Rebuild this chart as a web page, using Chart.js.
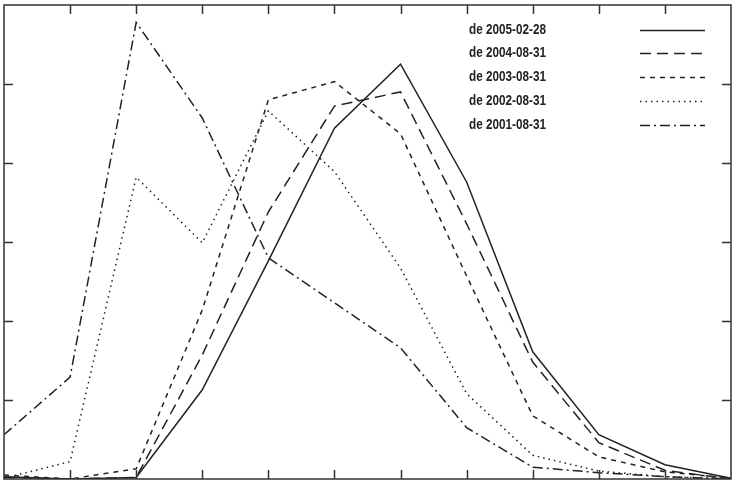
<!DOCTYPE html>
<html>
<head>
<meta charset="utf-8">
<script src="https://cdn.jsdelivr.net/npm/chart.js@4/dist/chart.umd.min.js"></script>
<style>
  html, body { margin: 0; padding: 0; background: #fff; }
  #wrap { width: 739px; height: 488px; }
</style>
</head>
<body>
<div id="wrap"><canvas id="c" width="739" height="488"></canvas></div>
<script>
const categories = ['1','2','3','4','5','6','7','8','9','10','11','12'];
const seriesLabels = ['de 2005-02-28','de 2004-08-31','de 2003-08-31','de 2002-08-31','de 2001-08-31'];
const s2005 = [0.3, 0.0, 0.2, 11.3, 27.6, 44.4, 52.5, 37.6, 16.1, 5.6, 1.8, 0.1];
const s2004 = [0.2, 0.0, 0.2, 15.7, 33.8, 47.2, 49.0, 32.3, 14.8, 4.6, 1.1, 0.0];
const s2003 = [0.5, 0.0, 1.3, 21.4, 48.0, 50.3, 43.7, 25.7, 8.0, 2.8, 0.9, 0.1];
const s2002 = [0.1, 2.2, 38.2, 29.9, 46.6, 38.9, 26.7, 10.8, 3.0, 1.0, 0.3, 0.0];
const s2001 = [5.6, 12.9, 57.8, 45.7, 28.0, 22.3, 16.6, 6.5, 1.5, 0.8, 0.3, 0.0];
const yTicks = [0, 10, 20, 30, 40, 50, 60];

const lineColor = '#222';
const dashes = [[], [11, 6], [5, 5], [1.5, 4], [10, 4, 2, 4]];
const allSeries = [s2005, s2004, s2003, s2002, s2001];

const datasets = allSeries.map((d, i) => ({
  label: seriesLabels[i],
  data: d,
  borderColor: lineColor,
  borderWidth: 1.5,
  borderDash: dashes[i],
  pointRadius: 0,
  fill: false,
  tension: 0
}));

const framePlugin = {
  id: 'frame',
  afterDraw(chart) {
    const ctx = chart.ctx;
    const a = chart.chartArea;
    const xs = chart.scales.x, ys = chart.scales.y;
    ctx.save();
    ctx.strokeStyle = '#333';
    ctx.lineWidth = 1.5;
    ctx.setLineDash([]);
    ctx.strokeRect(a.left, a.top, a.right - a.left, a.bottom - a.top);
    const tl = 9;
    ctx.beginPath();
    for (let i = 1; i < categories.length - 1; i++) {
      const px = Math.round(xs.getPixelForValue(i)) + 0.5;
      ctx.moveTo(px, a.bottom); ctx.lineTo(px, a.bottom - tl);
      ctx.moveTo(px, a.top); ctx.lineTo(px, a.top + tl);
    }
    for (let j = 1; j < yTicks.length - 1; j++) {
      const py = Math.round(ys.getPixelForValue(yTicks[j])) + 0.5;
      ctx.moveTo(a.left, py); ctx.lineTo(a.left + tl, py);
      ctx.moveTo(a.right, py); ctx.lineTo(a.right - tl, py);
    }
    ctx.stroke();
    // legend
    ctx.font = 'bold 15px "Liberation Sans Narrow", "Liberation Sans", Arial, sans-serif';
    ctx.fillStyle = '#222';
    ctx.textBaseline = 'middle';
    ctx.textAlign = 'left';
    chart.data.datasets.forEach((ds, i) => {
      const y = 29.5 + i * 23.8;
      ctx.fillText(ds.label, 469, y, 77);
      ctx.beginPath();
      ctx.setLineDash(ds.borderDash);
      ctx.lineWidth = ds.borderWidth;
      ctx.strokeStyle = ds.borderColor;
      ctx.moveTo(640, Math.round(y) + 0.5);
      ctx.lineTo(705, Math.round(y) + 0.5);
      ctx.stroke();
    });
    ctx.restore();
  }
};

new Chart(document.getElementById('c'), {
  type: 'line',
  data: { labels: categories, datasets },
  options: {
    responsive: false,
    animation: false,
    layout: { padding: { left: 4, top: 5, right: 8, bottom: 9 } },
    plugins: { legend: { display: false }, tooltip: { enabled: false } },
    scales: {
      x: { type: 'category', offset: false, display: false },
      y: { type: 'linear', min: 0, max: 60, display: false, ticks: { stepSize: 10 } }
    }
  },
  plugins: [framePlugin]
});
</script>
</body>
</html>
